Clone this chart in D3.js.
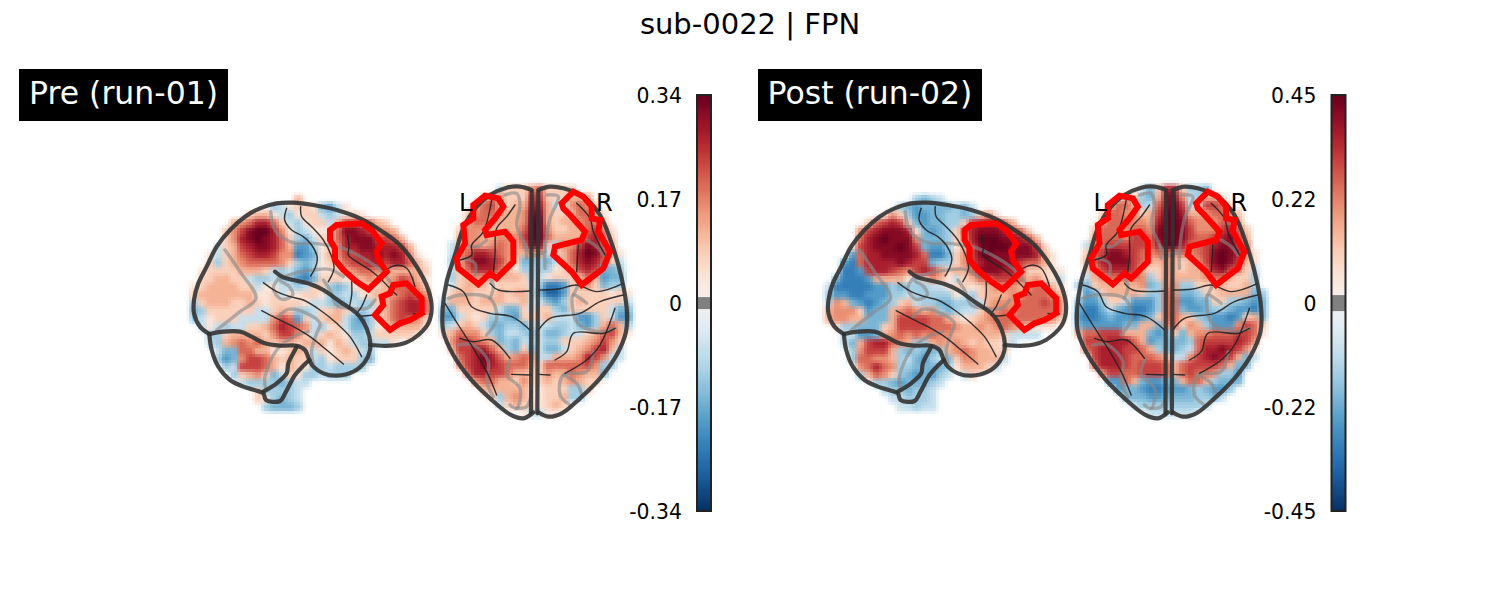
<!DOCTYPE html>
<html lang="en">
<head>
  <meta charset="UTF-8">
  <title>sub-0022 | FPN</title>
  <style>
    body { margin: 0; overflow: hidden; background: #fff; }
    svg { display: block; }
    text { font-family: "DejaVu Sans", sans-serif; }
    .dark, .thin, .soft, .red { fill: none; stroke-linejoin: round; stroke-linecap: round; }
    .dark { stroke: #333; stroke-opacity: 0.9; stroke-width: 4.2; }
    .thin { stroke: #222; stroke-opacity: 0.9; stroke-width: 1.4; }
    .soft { stroke: #888; stroke-opacity: 0.6; stroke-width: 3.4; }
    .red { stroke: #f00; stroke-width: 6; stroke-linejoin: miter; }
  </style>
  <script src="https://d3js.org/d3.v7.min.js"></script>
</head>
<body>
  <svg width="1500" height="600">
    <defs>
      <filter id="soften" filterUnits="userSpaceOnUse" x="0" y="0" width="1500" height="600" color-interpolation-filters="sRGB">
        <feGaussianBlur stdDeviation="2" result="blur"/>
        <feFlood x="1" y="1" width="1" height="1" flood-color="#000"/>
        <feComposite width="3" height="3"/>
        <feTile result="grid"/>
        <feComposite in="blur" in2="grid" operator="in"/>
        <feMorphology operator="dilate" radius="1"/>
      </filter>
    </defs>
  </svg>
  <script>
    // one char per cell: . empty, 0-9 positive tenths of vmax, a-g negative tenths
    const preSide = [
      ".............3",
      "..........cb1221deb1",
      ".......2331bc122bcb121",
      ".....3457752bc122b3665532",
      "....246899741cb11158876443",
      "....247898752cdb22578886653",
      "...b236788753eec124778877763",
      "..1b235677644fed1346677878741",
      "..2c234555542cdc12356677677531",
      ".122223332bcbdec11234554333332",
      ".223322bccbccefd22212343346531",
      "12333322b11bbcb22cdc1222355542",
      "23333333112b11221ccbc123345654",
      "c23332232122221bbcdcbcc2356775",
      "dc222222bb232ccb2232bcb2356775",
      "cb1222bbbb465e2b233bdec2356542",
      ".b1bcbb22357654bc12bddc1233331",
      "..cc23333246642b2321ccb222221",
      "..bc3454532332333132bccbb1",
      "...bdd553311232b21232bc",
      "...ced466532322bc1222cd",
      "....cb666531321ccbcccc",
      ".....c2342db21ccbccc",
      "......bccccdcbb",
      "........2ccccb",
      "........21cdcb",
      ".........cdddc"
    ];
    const preTop = [
      ".......b222452222",
      ".....24422266222333",
      "....3563233773b14542",
      "...245543348832235531",
      "...355433349932334542",
      "..24443333599422335641",
      "..34433444699533336752",
      ".b344345435882c4468753",
      ".b45776543344b235798631",
      ".c36887642ddcdb3578752b",
      ".b35777531cccc124676ddc",
      ".c234433332cb1222353edd",
      ".b233312222bcffe2342dcc",
      ".2332223233bdgge22222121",
      "b3332333223bbdec2322222b",
      "dd22222bdd2b22cd22222bdd",
      "eeb212ccde2223bbbeec2bee",
      "cb232bddccdbbbccbdec353c",
      "235442cdbbcdbddcbb235631",
      ".466543dcdbcbcc22234642",
      ".3667753cd2dbddb234673b",
      "..5679753454bb3334764bb",
      "..467876555325555564cc",
      "...57766533224335433d",
      "....4553324223234322",
      ".....33333311222cc2",
      "......2c34311223cc",
      ".......b23221232",
      "..........1bb11"
    ];
    const postSide = [
      "...........cdcb",
      ".........cdeddddcdb",
      ".......142ceeddccdc241",
      ".....256762deddcc2677753",
      "....46788871dedc2578887652",
      "....57898884dddc24799988763",
      "...167888986deec136899988862",
      "...e577888875ffd2468988888731",
      "..ef577778766dcc2467888865531",
      "..ffe6776546764233588877522211",
      ".dfffe33331c2431b235566653421b",
      "bfffffeecdcccbb122123444345531",
      "ceeffeeeccbccccc1bc23334455543",
      "b43defedc23bccddcccb3444555654",
      "34442edd345434cdcbb24454555554",
      "34433ddd3666655321234555555542",
      ".1ccddd2366665554334345432111",
      "..bbeed3454545443333332bbbb",
      "..bd3677543cc3434323221b",
      "...c46663cdcddc34543322",
      "...c55443cbdecbd244333b",
      "....45754ccddddc13332b",
      "....c3542cdedecb.b2",
      "......ccdedddcb",
      ".......bccdccb",
      "........bbcccb",
      ".........bbcbb"
    ];
    const postTop = [
      "........bd2772ccd",
      "......32cd3884bc331",
      "....2553cb5896b26651",
      "...255442369973345542",
      "...355544379985444553",
      "..25554554899864446752",
      "..35554665899865567863",
      ".b45666665799755678864",
      ".2568876545545456898741",
      ".3578886533432346898631",
      ".246777632243233578652b",
      ".b3455554c243333455322c",
      "cd2333334dc44cc2233223c",
      ".ed233332cc54ddc223333dc",
      "ceec22beeec55eedd22ccded",
      "dffdbdeffec55deedccdeefd",
      "effedeefed25532cdeefe23d",
      "deeeeedd33d45243ceee4652",
      "355666333ded2d3445556651",
      ".66677753eddddc56666764",
      ".567776653cddcb57787641",
      "..6777655543bb4678763db",
      "..577765666535666653dd",
      "...466556665356554cce",
      "....ee53deedd3553cddd",
      ".....eddeffeeedcdeec",
      "......dddeeddddccdb",
      ".......bccccccccb",
      ".........bbbbbb"
    ];

    const preTicks = [-0.34, -0.17, 0, 0.17, 0.34];
    const preTickLabels = ["-0.34", "-0.17", "0", "0.17", "0.34"];
    const postTicks = [-0.45, -0.225, 0, 0.225, 0.45];
    const postTickLabels = ["-0.45", "-0.22", "0", "0.22", "0.45"];
    const preThreshold = 0.009;
    const postThreshold = 0.016;
    const panelNames = ["Pre (run-01)", "Post (run-02)"];

    // outlines in units of the side view and top view frames
    const sideDark = [
      [[88,462],[60,440],[42,400],[42,360],[55,310],[80,260],[110,200],[150,150],[195,110],[240,85],[290,70],[340,68],[400,75],[470,90],[540,115],[600,150],[660,195],[710,260],[745,330],[755,385],[745,430],[715,465],[680,487],[630,497],[570,495]],
      [[88,462],[130,455],[180,455],[215,470],[250,488],[300,497],[350,497],[375,510],[388,540],[400,560],[430,580],[470,587],[520,575],[555,545],[570,510],[568,470],[550,425],[530,400],[480,365],[430,330],[390,312],[340,300],[310,292],[285,275]],
      [[88,462],[95,510],[115,560],[150,600],[190,620],[230,632],[250,640],[258,660],[300,663],[318,635],[345,585],[372,555],[388,540]],
      [[250,635],[290,610],[320,580],[325,550],[345,510],[350,500]]
    ];
    const sideThin = [
      [[320,85],[314,120],[335,150],[370,170],[395,195],[412,235],[405,265],[392,288]],
      [[362,80],[365,110],[395,140],[430,180],[455,230],[462,265],[445,305]],
      [[502,165],[507,200],[505,225],[530,245],[570,270],[600,295],[625,320],[650,345]],
      [[250,308],[290,335],[330,350],[370,360],[420,390],[470,430],[510,470],[545,530]],
      [[245,392],[290,415],[340,440],[390,470],[440,510],[490,552]],
      [[625,265],[655,255],[680,265],[695,290],[705,320]],
      [[515,305],[515,345],[507,385]],
      [[560,345],[545,380],[530,405],[580,405]],
      [[700,400],[735,402]]
    ];
    const sideSoft = [
      [[272,95],[285,150],[310,175],[350,190],[400,190],[440,195],[490,205],[550,235],[600,270],[630,305]],
      [[135,210],[180,275],[228,355],[180,395],[110,450]],
      [[300,290],[280,325],[305,358],[338,345],[328,320],[300,300],[350,278],[400,270],[450,268],[490,290]],
      [[430,300],[450,330],[470,375],[510,385],[560,385],[585,360]],
      [[296,410],[325,388],[380,400],[420,430],[410,460],[395,510],[400,550]],
      [[258,630],[255,590],[290,510],[340,470],[385,455]]
    ];
    const topDark = [
      [[305,45],[270,35],[230,38],[180,60],[140,95],[100,160],[75,240],[50,320],[38,400],[40,470],[70,540],[120,610],[180,670],[240,718],[280,730],[310,712]],
      [[325,45],[360,35],[400,40],[460,65],[510,120],[550,220],[575,310],[590,400],[588,470],[560,540],[510,610],[450,670],[395,715],[355,725],[325,712]],
      [[305,50],[303,715]],
      [[325,50],[322,715]]
    ];
    const topThin = [
      [[55,330],[100,350],[125,395],[180,415],[245,425],[300,465]],
      [[180,325],[205,345],[300,348]],
      [[45,385],[85,450],[130,520],[170,590],[200,660]],
      [[90,490],[130,500],[185,495],[240,550]],
      [[245,598],[305,600]],
      [[325,598],[360,600]],
      [[255,90],[230,125],[200,160],[195,240],[190,290]],
      [[185,75],[160,170],[125,210],[125,240],[90,255]],
      [[325,345],[385,342],[440,330],[500,350],[580,325]],
      [[325,465],[360,430],[450,415],[510,380],[580,360]],
      [[375,555],[410,530],[430,475],[520,475],[555,460]],
      [[405,595],[470,555],[510,510],[555,400]],
      [[440,85],[480,130],[490,170],[525,240]],
      [[445,210],[440,290]]
    ];
    const topSoft = [
      [[225,60],[260,55],[270,90],[260,150],[285,210],[290,250]],
      [[55,370],[90,360],[180,370],[200,430],[170,480]],
      [[85,510],[130,510],[175,560],[170,620],[190,665]],
      [[240,555],[230,600],[270,640],[260,700],[240,690]],
      [[350,60],[385,65],[360,130],[345,230],[345,280]],
      [[470,385],[430,360],[440,440],[500,470],[555,460]],
      [[490,530],[470,590],[400,600],[390,660],[420,690]],
      [[110,210],[140,215],[170,195]],
      [[470,195],[500,215],[520,240]],
      [[285,210],[310,240],[345,230]],
      [[180,370],[190,330],[170,300]],
      [[400,600],[440,625],[455,660]],
      [[260,700],[290,695],[305,650]],
      [[100,250],[135,265],[135,300]],
      [[430,360],[450,320]]
    ];
    const sideRed = [
      [[470,135],[545,130],[575,150],[605,190],[590,215],[595,240],[620,275],[565,328],[530,305],[490,270],[465,240],[465,205],[450,180],[450,150]],
      [[640,315],[680,310],[725,355],[725,400],[690,420],[660,430],[630,450],[585,405],[610,375],[605,350],[630,340]]
    ];
    const topRed = [
      [[130,90],[165,62],[205,70],[220,95],[195,130],[165,165],[170,180],[225,170],[250,200],[250,260],[200,310],[180,295],[145,328],[85,280],[80,250],[105,205],[100,150],[130,130]],
      [[395,85],[430,50],[460,65],[485,95],[485,130],[510,135],[505,170],[540,230],[520,280],[455,330],[425,290],[370,240],[375,215],[455,195],[465,170],[420,120],[400,100]]
    ];

    const svg = d3.select("svg");
    const cellColor = d3.scaleSequential(t => d3.interpolateRdBu(1 - t)).domain([-1, 1]);

    // the blur flattens contrast, so levels are lifted a little before colouring
    const levelGain = 1.15;

    function cellValue(ch) {
      const v = ch >= "0" && ch <= "9" ? +ch / 10 : -(ch.charCodeAt(0) - 96) / 10;
      return Math.max(-1, Math.min(1, v * levelGain));
    }

    svg.append("text")
      .attr("x", 750).attr("y", 34)
      .attr("text-anchor", "middle")
      .attr("font-size", 29)
      .text("sub-0022 | FPN");

    function drawView(g, rows, left, top, nCols, frameX, frameY, dark, thin, soft, red) {
      const x = d3.scaleBand().domain(d3.range(nCols)).range([left, left + nCols * 8]);
      const y = d3.scaleBand().domain(d3.range(rows.length)).range([top, top + rows.length * 8]);
      const cells = [];
      rows.forEach((row, r) => row.split("").forEach((ch, c) => {
        if (ch !== ".") cells.push({r, c, v: cellValue(ch)});
      }));
      g.append("g").attr("filter", "url(#soften)")
        .selectAll("rect").data(cells).join("rect")
        .attr("x", d => x(d.c)).attr("y", d => y(d.r))
        .attr("width", x.bandwidth() + 0.5).attr("height", y.bandwidth() + 0.5)
        .attr("fill", d => cellColor(d.v));

      const line = d3.line().x(d => frameX(d[0])).y(d => frameY(d[1])).curve(d3.curveCatmullRom);
      g.selectAll("path.soft").data(soft).join("path").attr("class", "soft").attr("d", line);
      g.selectAll("path.thin").data(thin).join("path").attr("class", "thin").attr("d", line);
      g.selectAll("path.dark").data(dark).join("path").attr("class", "dark").attr("d", line);
      const redLine = d3.line().x(d => frameX(d[0])).y(d => frameY(d[1])).curve(d3.curveLinearClosed);
      g.selectAll("path.red").data(red).join("path").attr("class", "red").attr("d", redLine);
    }

    function drawColorbar(g, ticks, labels, threshold, barX) {
      const vmax = ticks[ticks.length - 1];
      const y = d3.scaleLinear().domain([-vmax, vmax]).range([511, 95]);
      const steps = d3.range(0, 208).map(i => -vmax + (i + 0.5) * vmax / 104);
      g.selectAll("rect.step").data(steps).join("rect")
        .attr("class", "step")
        .attr("x", barX).attr("width", 14)
        .attr("y", d => y(d) - 1.1).attr("height", 2.2)
        .attr("fill", d => Math.abs(d) < threshold ? "#808080" : cellColor(d / vmax));
      g.append("rect")
        .attr("x", barX).attr("y", 95).attr("width", 14).attr("height", 416)
        .attr("fill", "none").attr("stroke", "#222").attr("stroke-width", 2);
      const axis = d3.axisLeft(y).tickValues(ticks).tickSize(0).tickPadding(15)
        .tickFormat((d, i) => labels[i]);
      const ag = g.append("g").attr("transform", `translate(${barX},1)`).call(axis);
      ag.select(".domain").remove();
      ag.selectAll("text").attr("font-size", 20.4).attr("fill", "#000")
        .style("font-family", '"DejaVu Sans", sans-serif');
    }

    function drawPanel(name, boxX, boxWidth, dx, side, top, ticks, labels, threshold) {
      const g = svg.append("g");
      g.append("rect").attr("x", boxX).attr("y", 69).attr("width", boxWidth).attr("height", 52).attr("fill", "#000");
      g.append("text").attr("x", boxX + boxWidth / 2).attr("y", 104).attr("text-anchor", "middle")
        .attr("font-size", 31.5).attr("fill", "#fff").text(name);

      const sideX = d3.scaleLinear().domain([0, 810]).range([180 + dx, 450 + dx]);
      const sideY = d3.scaleLinear().domain([0, 720]).range([180, 420]);
      const topX = d3.scaleLinear().domain([0, 630]).range([430 + dx, 640 + dx]);
      const topY = d3.scaleLinear().domain([0, 750]).range([175, 425]);
      drawView(g.append("g"), side, 190 + dx, 195, 32, sideX, sideY, sideDark, sideThin, sideSoft, sideRed);
      drawView(g.append("g"), top, 440 + dx, 185, 24, topX, topY, topDark, topThin, topSoft, topRed);

      g.append("text").attr("x", 459 + dx).attr("y", 211).attr("font-size", 24).text("L");
      g.append("text").attr("x", 596 + dx).attr("y", 211).attr("font-size", 24).text("R");
      drawColorbar(g.append("g"), ticks, labels, threshold, 697 + dx);
    }

    drawPanel(panelNames[0], 19, 209, 0, preSide, preTop, preTicks, preTickLabels, preThreshold);
    drawPanel(panelNames[1], 758, 224, 634.5, postSide, postTop, postTicks, postTickLabels, postThreshold);
  </script>
</body>
</html>
